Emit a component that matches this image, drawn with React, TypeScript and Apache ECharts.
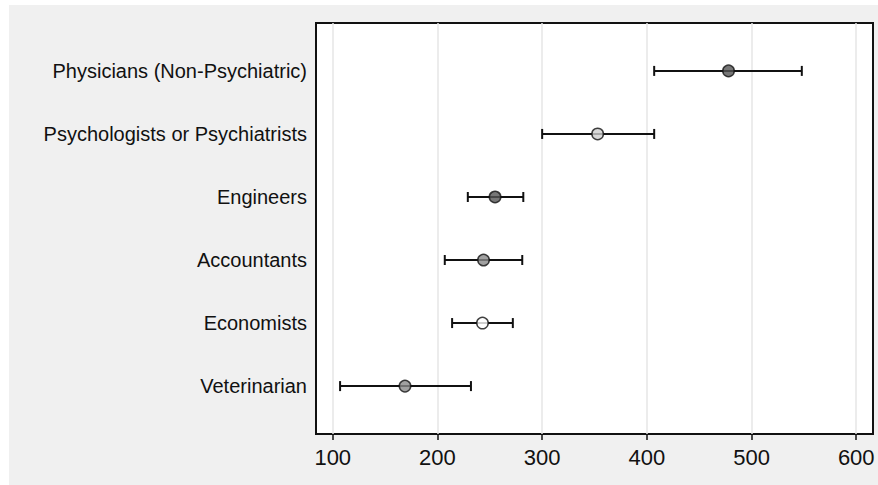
import React, { useEffect, useRef } from "react";
import * as echarts from "echarts";

const categories = [
  "Physicians (Non-Psychiatric)",
  "Psychologists or Psychiatrists",
  "Engineers",
  "Accountants",
  "Economists",
  "Veterinarian",
];
const means = [478, 353, 255, 244, 243, 169];
const lows = [407, 300, 229, 207, 214, 107];
const highs = [548, 407, 282, 281, 272, 232];
const xTicks = [100, 200, 300, 400, 500, 600];

const markerColors = ["#555555", "#cfcfcf", "#555555", "#8a8a8a", "#ffffff", "#8a8a8a"];

const FONT = "'Liberation Sans', Arial, sans-serif";

export default function App() {
  const ref = useRef<HTMLDivElement>(null);
  useEffect(() => {
    document.body.style.margin = "0";
    const chart = echarts.init(ref.current!, null, { renderer: "svg" });
    const idx = categories.map((_, i) => i);
    chart.setOption({
      animation: false,
      backgroundColor: "#ffffff",
      graphic: [
        {
          type: "rect",
          z: -100,
          silent: true,
          shape: { x: 9, y: 5, width: 869, height: 480 },
          style: { fill: "#f0f0f0" },
        },
      ],
      grid: {
        left: 316,
        right: 5,
        top: 23,
        bottom: 51,
        show: true,
        backgroundColor: "#ffffff",
        borderColor: "#111111",
        borderWidth: 2,
      },
      xAxis: {
        type: "value",
        min: 84,
        max: 616,
        axisLine: { show: false, onZero: false },
        axisTick: {
          show: true,
          customValues: xTicks,
          length: 6,
          lineStyle: { color: "#111111", width: 1.5 },
        },
        axisLabel: {
          customValues: xTicks,
          fontSize: 22,
          color: "#111111",
          fontFamily: FONT,
          margin: 12,
        },
        splitLine: { show: true, lineStyle: { color: "#e6e6e6", width: 1.5 } },
      },
      yAxis: {
        type: "value",
        inverse: true,
        min: -0.76,
        max: 5.76,
        axisLine: { show: false, onZero: false },
        axisTick: { show: false },
        splitLine: { show: false },
        axisLabel: {
          customValues: idx,
          formatter: (v: number) => categories[Math.round(v)] ?? "",
          fontSize: 20,
          color: "#111111",
          fontFamily: FONT,
          margin: 9,
        },
      },
      series: [
        {
          type: "custom",
          z: 2,
          data: idx.map((i) => [lows[i], highs[i], i]),
          encode: { x: [0, 1], y: 2 },
          renderItem: (params: any, api: any) => {
            const lo = api.coord([api.value(0), api.value(2)]);
            const hi = api.coord([api.value(1), api.value(2)]);
            const h = 5;
            const style = { stroke: "#111111", lineWidth: 2 };
            return {
              type: "group",
              children: [
                { type: "line", shape: { x1: lo[0], y1: lo[1], x2: hi[0], y2: hi[1] }, style },
                { type: "line", shape: { x1: lo[0], y1: lo[1] - h, x2: lo[0], y2: lo[1] + h }, style },
                { type: "line", shape: { x1: hi[0], y1: hi[1] - h, x2: hi[0], y2: hi[1] + h }, style },
              ],
            };
          },
        },
        {
          type: "scatter",
          z: 3,
          symbol: "circle",
          symbolSize: 11.5,
          data: idx.map((i) => ({
            value: [means[i], i],
            itemStyle: { color: markerColors[i], borderColor: "#111111", borderWidth: 1.5 },
          })),
        },
      ],
    });
    return () => chart.dispose();
  }, []);
  return <div ref={ref} style={{ width: 878, height: 485 }} />;
}
